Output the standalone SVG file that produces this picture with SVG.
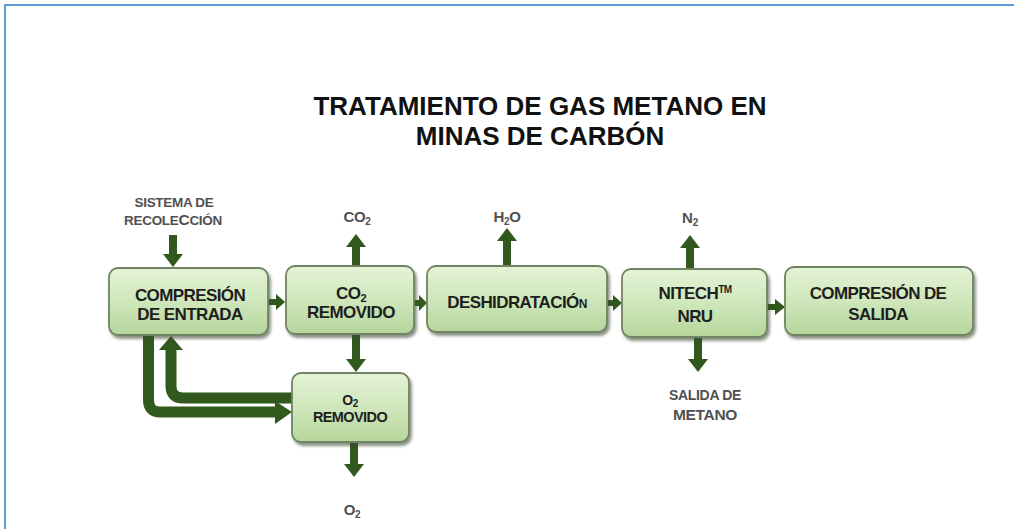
<svg xmlns="http://www.w3.org/2000/svg" width="1014" height="529" viewBox="0 0 1014 529">
<defs>
<linearGradient id="boxg" x1="0" y1="0" x2="0" y2="1">
<stop offset="0" stop-color="#e4f3d6"/>
<stop offset="0.5" stop-color="#cfe7bb"/>
<stop offset="1" stop-color="#b6d69c"/>
</linearGradient>
<filter id="sh" x="-10%" y="-10%" width="125%" height="130%">
<feDropShadow dx="2" dy="3" stdDeviation="1.5" flood-color="#3d4a35" flood-opacity="0.6"/>
</filter>
<style>
.box{fill:url(#boxg);stroke:#6f8463;stroke-width:1.8;filter:url(#sh)}
.bt{font-family:"Liberation Sans",Arial,sans-serif;font-weight:bold;font-size:17px;fill:#1e1e1e;text-anchor:middle;letter-spacing:-0.6px}
.st{font-family:"Liberation Sans",Arial,sans-serif;font-weight:bold;font-size:13.5px;fill:#505050;text-anchor:middle;letter-spacing:-0.3px}
.ti{font-family:"Liberation Sans",Arial,sans-serif;font-weight:bold;font-size:26px;fill:#111;text-anchor:middle}
.ar{fill:#31591d}
.ln{fill:none;stroke:#31591d;stroke-width:11}
</style>
</defs>
<rect width="1014" height="529" fill="#fff"/>
<g id="frame">
<line x1="4" y1="5" x2="1014" y2="5" stroke="#5b9bd5" stroke-width="2"/>
<line x1="5" y1="5" x2="5" y2="529" stroke="#5b9bd5" stroke-width="2"/>
</g>
<g id="title">
<text class="ti" x="540" y="115">TRATAMIENTO DE GAS METANO EN</text>
<text class="ti" x="540" y="145">MINAS DE CARBÓN</text>
</g>
<g id="connectors">
<polygon class="ar" points="169,235 177,235 177,254 183,254 173,267 163,254 169,254"/>
<polygon class="ar" points="352,266 360,266 360,247 366,247 356,234 346,247 352,247"/>
<polygon class="ar" points="503,266 511,266 511,241 517,241 507,228 497,241 503,241"/>
<polygon class="ar" points="686,269 694,269 694,248 700,248 690,235 680,248 686,248"/>
<polygon class="ar" points="694,337 702,337 702,359 708,359 698,372 688,359 694,359"/>
<polygon class="ar" points="352,334 360,334 360,359 366,359 356,372 346,359 352,359"/>
<polygon class="ar" points="350,442 358,442 358,464 364,464 354,477 344,464 350,464"/>
<polygon class="ar" points="268,299 276,299 276,294 285,302 276,310 276,305 268,305"/>
<polygon class="ar" points="414,300 419,300 419,295 427,303 419,311 419,306 414,306"/>
<polygon class="ar" points="607,300 613,300 613,295 622,303 613,311 613,306 607,306"/>
<polygon class="ar" points="767,304 775,304 775,299 785,307 775,315 775,310 767,310"/>
<path class="ln" d="M148.5,335 V400 Q148.5,412 160,412 H277"/>
<polygon class="ar" points="275,401 292,412 275,424"/>
<path class="ln" d="M293,398 H183 Q171,398 171,386 V349"/>
<polygon class="ar" points="159,350 183,350 171,336"/>
</g>
<g id="sistema">
<text class="st" x="174" y="207">SISTEMA DE</text>
<text class="st" x="173" y="225">RECOLE<tspan font-size="15.5px">C</tspan>CIÓN</text>
</g>
<g id="n-compresion-entrada">
<rect class="box" x="109" y="268" width="159" height="67" rx="9"/>
<text class="bt" x="190" y="301">COMPRESIÓN</text>
<text class="bt" x="190" y="320">DE ENTRADA</text>
</g>
<g id="n-co2-removido">
<rect class="box" x="286" y="266" width="128" height="68" rx="9"/>
<text class="bt" x="351" y="299">CO<tspan font-size="11px" dy="3">2</tspan></text>
<text class="bt" x="351" y="318">REMOVIDO</text>
</g>
<g id="n-deshidratacion">
<rect class="box" x="427" y="266" width="180" height="66" rx="9"/>
<text class="bt" x="517" y="308">DESHIDRATACIÓ<tspan font-size="12px">N</tspan></text>
</g>
<g id="n-nitech">
<rect class="box" x="622" y="269" width="145" height="68" rx="9"/>
<text class="bt" x="695" y="299">NITECH<tspan font-size="10px" dy="-6">TM</tspan></text>
<text class="bt" x="695" y="322">NRU</text>
</g>
<g id="n-compresion-salida">
<rect class="box" x="785" y="267" width="188" height="68" rx="9"/>
<text class="bt" x="878" y="299">COMPRESIÓN DE</text>
<text class="bt" x="878" y="320">SALIDA</text>
</g>
<g id="n-o2-removido">
<rect class="box" x="292" y="373" width="117" height="69" rx="9"/>
<text class="bt" x="350" y="405" style="font-size:14px">O<tspan font-size="10px" dy="2">2</tspan></text>
<text class="bt" x="350" y="422" style="font-size:14.5px">REMOVIDO</text>
</g>
<g id="labels">
<text class="st" x="357" y="222" style="font-size:15px">CO<tspan font-size="10px" dy="3">2</tspan></text>
<text class="st" x="507" y="222" style="font-size:15px">H<tspan font-size="10px" dy="3">2</tspan><tspan dy="-3">O</tspan></text>
<text class="st" x="690" y="223" style="font-size:15px">N<tspan font-size="10px" dy="3">2</tspan></text>
<text class="st" x="705" y="400" style="font-size:14px">SALIDA DE</text>
<text class="st" x="705" y="420" style="font-size:15.5px">METANO</text>
<text class="st" x="352" y="515" style="font-size:15px">O<tspan font-size="10px" dy="3">2</tspan></text>
</g>
</svg>
